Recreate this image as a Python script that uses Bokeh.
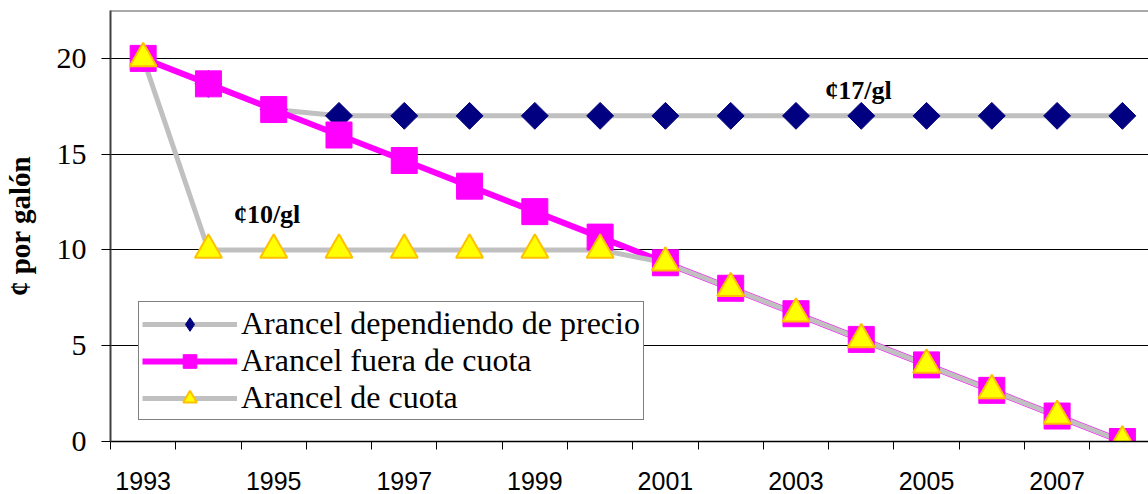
import math
from bokeh.plotting import figure
from bokeh.models import FixedTicker, Label, Legend, LegendItem, Span, Range1d
from bokeh.embed import file_html
from bokeh.resources import INLINE

# ---- data ----
years = [1993, 1994, 1995, 1996, 1997, 1998, 1999, 2000,
         2001, 2002, 2003, 2004, 2005, 2006, 2007, 2008]
arancel_precio = [20, 18.67, 17.33, 17, 17, 17, 17, 17,
                  17, 17, 17, 17, 17, 17, 17, 17]
arancel_fuera_cuota = [20, 18.67, 17.33, 16, 14.67, 13.33, 12, 10.67,
                       9.33, 8, 6.67, 5.33, 4, 2.67, 1.33, 0]
arancel_cuota = [20, 10, 10, 10, 10, 10, 10, 10,
                 9.33, 8, 6.67, 5.33, 4, 2.67, 1.33, 0]
x_tick_years = [1993, 1995, 1997, 1999, 2001, 2003, 2005, 2007]
x_tick_labels = ["1993", "1995", "1997", "1999", "2001", "2003", "2005", "2007"]
y_ticks = [0, 5, 10, 15, 20]
series_names = ["Arancel dependiendo de precio", "Arancel fuera de cuota", "Arancel de cuota"]
annotations = ["¢17/gl", "¢10/gl"]
y_title = "¢ por galón"

SERIF = "Liberation Serif"
SANS = "Liberation Sans"

p = figure(width=1148, height=494, output_backend="svg", toolbar_location=None,
           x_range=Range1d(1992.5, 2008.4), y_range=Range1d(0, 22.5),
           min_border_left=109, min_border_right=0, min_border_top=10, min_border_bottom=53)
p.title.visible = False
p.outline_line_color = None
p.background_fill_color = "white"
p.border_fill_color = "white"

# grid
p.xgrid.visible = False
p.ygrid.ticker = FixedTicker(ticks=y_ticks)
p.ygrid.grid_line_color = "black"
p.ygrid.grid_line_width = 1

# top frame line
p.add_layout(Span(location=22.5, dimension="width", line_color="#555555", line_width=2))

# x axis
minor = [y - 0.5 for y in years] + [years[-1] + 0.5]
p.xaxis.ticker = FixedTicker(ticks=x_tick_years, minor_ticks=minor)
p.xaxis.major_label_overrides = {y: l for y, l in zip(x_tick_years, x_tick_labels)}
p.xaxis.major_tick_out = 0
p.xaxis.major_tick_in = 0
p.xaxis.minor_tick_out = 8
p.xaxis.minor_tick_in = 0
p.xaxis.minor_tick_line_color = "black"
p.xaxis.axis_line_color = "black"
p.xaxis.axis_line_width = 1.5
p.xaxis.major_label_text_font = SANS
p.xaxis.major_label_text_font_size = "25px"
p.xaxis.major_label_text_color = "black"
p.xaxis.major_label_standoff = 22

# y axis
p.yaxis.ticker = FixedTicker(ticks=y_ticks)
p.yaxis.major_tick_out = 9
p.yaxis.major_tick_in = 0
p.yaxis.minor_tick_out = 0
p.yaxis.minor_tick_in = 0
p.yaxis.major_tick_line_color = "black"
p.yaxis.axis_line_color = "#404040"
p.yaxis.axis_line_width = 2
p.yaxis.major_label_text_font = SERIF
p.yaxis.major_label_text_font_size = "30px"
p.yaxis.major_label_text_color = "black"
p.yaxis.major_label_standoff = 15
p.yaxis.axis_label = y_title
p.yaxis.axis_label_text_font = SERIF
p.yaxis.axis_label_text_font_style = "bold"
p.yaxis.axis_label_text_font_size = "29px"
p.yaxis.axis_label_text_color = "black"
p.yaxis.axis_label_standoff = 18

GRAY = "#C0C0C0"
MAGENTA = "#FF00FF"

# lines first
l_precio = p.line(years, arancel_precio, line_color=GRAY, line_width=5)
l_fuera = p.line(years, arancel_fuera_cuota, line_color=MAGENTA, line_width=6)
l_cuota = p.line(years, arancel_cuota, line_color=GRAY, line_width=5)

# markers
m_precio = p.scatter(years, arancel_precio, marker="square", angle=math.pi / 4, size=19,
                     fill_color="#000080", line_color="#000080")
m_fuera = p.scatter(years, arancel_fuera_cuota, marker="square", size=26,
                    fill_color=MAGENTA, line_color=MAGENTA)
m_cuota = p.scatter(years, arancel_cuota, marker="triangle", size=27,
                    fill_color="#FFFF00", line_color="#FFC000", line_width=2)
# legend-only diamond symbol (size 0 in the plot)
k_precio = p.scatter(years, arancel_precio, marker="diamond", size=0,
                     fill_color="#000080", line_color="#000080")

legend = Legend(items=[
    LegendItem(label=series_names[0], renderers=[l_precio, k_precio]),
    LegendItem(label=series_names[1], renderers=[l_fuera, m_fuera]),
    LegendItem(label=series_names[2], renderers=[l_cuota, m_cuota]),
], location=(28, 21))
legend.label_text_font = SERIF
legend.label_text_font_size = "32px"
legend.label_text_color = "black"
legend.glyph_width = 95
legend.glyph_height = 34
legend.label_height = 34
legend.label_standoff = 4
legend.spacing = -4
legend.padding = 3
legend.margin = 0
legend.border_line_color = "black"
legend.border_line_width = 1
legend.background_fill_color = "white"
legend.background_fill_alpha = 1
p.add_layout(legend)

p.add_layout(Label(x=2003.45, y=18.33, text=annotations[0], text_font=SERIF,
                   text_font_style="bold", text_font_size="26px", text_color="black",
                   text_baseline="alphabetic"))
p.add_layout(Label(x=1994.39, y=11.84, text=annotations[1], text_font=SERIF,
                   text_font_style="bold", text_font_size="26px", text_color="black",
                   text_baseline="alphabetic"))

open("out.html", "w").write(file_html(p, INLINE))
